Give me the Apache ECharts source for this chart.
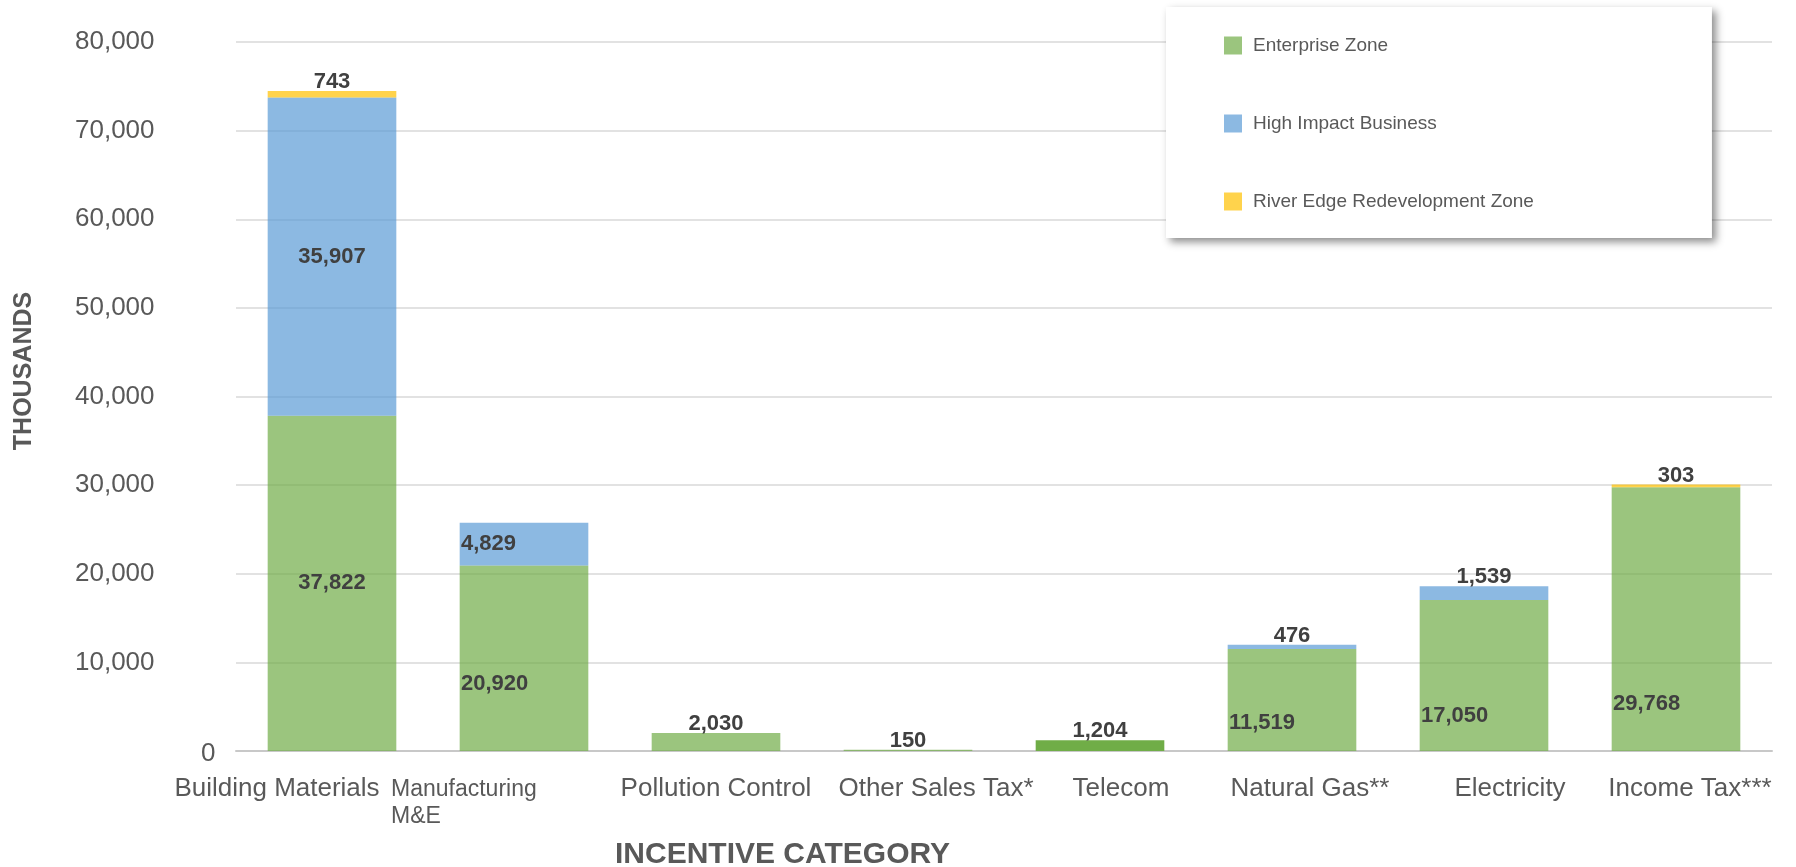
<!DOCTYPE html>
<html>
<head>
<meta charset="utf-8">
<script src="https://cdn.jsdelivr.net/npm/echarts@6/dist/echarts.min.js"></script>
<style>
  html, body { margin: 0; padding: 0; background: #fff; }
  #main { width: 1796px; height: 867px; }
</style>
</head>
<body>
<div id="main"></div>
<script>
// categories and values (thousands)
var categories = ['Building Materials', 'Manufacturing\nM&E', 'Pollution Control', 'Other Sales Tax*',
  'Telecom', 'Natural Gas**', 'Electricity', 'Income Tax***'];
var enterpriseZone = [37822, 20920, 2030, 150, 1204, 11519, 17050, 29768];
var highImpact = [35907, 4829, null, null, null, 476, 1539, null];
var riverEdge = [743, null, null, null, null, null, null, 303];
var seriesNames = ['Enterprise Zone', 'High Impact Business', 'River Edge Redevelopment Zone'];

var FONT = 'Liberation Sans, Arial, sans-serif';
var GREEN = 'rgba(112,173,71,0.7)', BLUE = 'rgba(91,155,213,0.7)', GOLD = 'rgba(255,192,0,0.7)';
var fmt = function (v) { return v == null ? '' : Number(v).toLocaleString('en-US'); };

var labelBase = { show: true, color: '#404040', fontFamily: FONT, fontWeight: 'bold', fontSize: 22,
  formatter: function (p) { return fmt(p.value); } };
var topLabel = { position: 'top', distance: -2 };
var leftIn = function (y) { return { position: ['1%', y], align: 'left', verticalAlign: 'middle' }; };

// label placement per bar (like the excel one, some are moved by hand)
var ezLabel = [{ position: 'inside' }, leftIn('64%'), topLabel, topLabel, topLabel,
  leftIn('73%'), leftIn('77%'), leftIn('82%')];
var hiLabel = [{ position: 'inside' }, leftIn('50%'), null, null, null, topLabel, topLabel, null];

// excel nudged the category labels sideways a bit, padding does the same here
var catPad = [[0, 110, 0, 0], null, null, [0, 0, 0, 56], [0, 0, 0, 42], [0, 0, 0, 36], [0, 0, 0, 52], [0, 0, 0, 28]];
var catRich = {
  m: { fontSize: 23, lineHeight: 27, width: 266, align: 'left', color: '#595959', fontFamily: FONT }
};
catPad.forEach(function (p, i) {
  if (p) catRich['c' + i] = { padding: p, fontSize: 26, color: '#595959', fontFamily: FONT };
});

function items(values, labels, extra) {
  return values.map(function (v, i) {
    var it = { value: v };
    if (labels && labels[i]) it.label = labels[i];
    if (extra && extra[i]) it.itemStyle = extra[i];
    return it;
  });
}

var chart = echarts.init(document.getElementById('main'));
var option = {
  animation: false,
  textStyle: { fontFamily: FONT },
  grid: { left: 236, right: 24, top: 42, bottom: 116 },
  title: {
    text: 'INCENTIVE CATEGORY', left: 615, top: 840, padding: 0,
    textStyle: { color: '#595959', fontSize: 30, fontWeight: 'bold', fontFamily: FONT }
  },
  graphic: [{
    type: 'text', x: 24, y: 371, rotation: Math.PI / 2,
    style: { text: 'THOUSANDS', fill: '#595959', font: 'bold 25px ' + FONT, align: 'center', verticalAlign: 'middle' }
  }],
  legend: {
    data: seriesNames, orient: 'vertical', left: 1166, top: 7,
    padding: [29, 178, 27, 58], itemGap: 59, itemWidth: 18, itemHeight: 18, icon: 'rect',
    backgroundColor: '#fff', shadowBlur: 8, shadowColor: 'rgba(0,0,0,0.45)', shadowOffsetX: 4, shadowOffsetY: 4,
    textStyle: { color: '#595959', fontSize: 19, fontFamily: FONT, padding: [0, 0, 0, 6] }
  },
  xAxis: {
    type: 'category', data: categories,
    axisTick: { show: false },
    axisLine: { lineStyle: { color: '#C8C8C8', width: 2 } },
    axisLabel: {
      interval: 0, margin: 25, color: '#595959', fontSize: 26, fontFamily: FONT,
      formatter: function (v, i) {
        if (v === 'Manufacturing\nM&E') return '{m|Manufacturing}\n{m|M&E}';
        return catPad[i] ? '{c' + i + '|' + v + '}' : v;
      },
      rich: catRich
    }
  },
  yAxis: {
    type: 'value', min: 0, max: 80000, interval: 10000,
    axisLine: { show: false }, axisTick: { show: false },
    splitLine: { lineStyle: { color: '#E2E2E2', width: 2 } },
    axisLabel: {
      color: '#595959', fontSize: 26, fontFamily: FONT, align: 'left', margin: 161,
      formatter: function (v) { return v === 0 ? '{z|0}' : fmt(v); },
      rich: { z: { padding: [6, 0, 0, 126], fontSize: 26, color: '#595959', fontFamily: FONT } }
    }
  },
  series: [
    {
      name: seriesNames[0], type: 'bar', stack: 'total', barCategoryGap: '33%',
      itemStyle: { color: GREEN },
      label: labelBase,
      data: items(enterpriseZone, ezLabel, [null, null, null, null, { color: '#70AD47' }])
    },
    {
      name: seriesNames[1], type: 'bar', stack: 'total',
      itemStyle: { color: BLUE },
      label: labelBase,
      data: items(highImpact, hiLabel)
    },
    {
      name: seriesNames[2], type: 'bar', stack: 'total',
      itemStyle: { color: GOLD },
      label: Object.assign({}, labelBase, topLabel),
      data: items(riverEdge)
    }
  ]
};
chart.setOption(option);
</script>
</body>
</html>
